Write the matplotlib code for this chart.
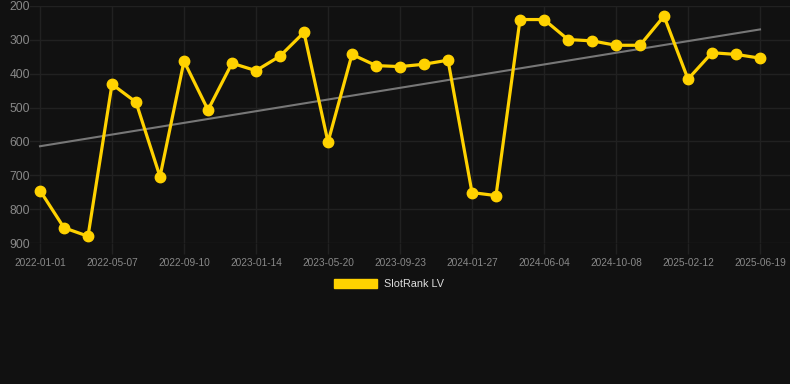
import matplotlib
matplotlib.use("Agg")
import matplotlib.pyplot as plt
import numpy as np
from matplotlib.patches import Patch

plt.rcParams['font.family'] = ['Liberation Sans', 'DejaVu Sans']

tick_labels = ["2022-01-01", "2022-05-07", "2022-09-10", "2023-01-14", "2023-05-20",
               "2023-09-23", "2024-01-27", "2024-06-04", "2024-10-08", "2025-02-12",
               "2025-06-19"]
ranks = [745, 855, 880, 431, 484, 704, 363, 507, 369, 391, 348, 278, 602, 343, 376,
         379, 372, 360, 751, 760, 240, 240, 299, 303, 316, 316, 230, 416, 338, 343, 354]
series_name = "SlotRank LV"

BG = "#111111"
GRID = "#212121"
YELLOW = "#FFD200"

fig = plt.figure(figsize=(7.9, 3.84), dpi=100, facecolor=BG)
W, H = 790, 384
ax = fig.add_axes([30 / W, 1 - 243 / H, 760 / W, (243 - 6) / H])
ax.set_facecolor(BG)

x = np.arange(len(ranks))
coef = np.polyfit(x, ranks, 1)
ax.plot(x, np.polyval(coef, x), color="#777777", lw=1.5, zorder=2)
ax.plot(x, ranks, color=YELLOW, lw=2.3, marker="o", ms=7.5, zorder=3, clip_on=False)

ax.set_xlim(-10 / 24, 30 + 30 / 24)
ax.set_ylim(900, 200)
ax.set_yticks([200, 300, 400, 500, 600, 700, 800, 900])
ax.set_xticks(np.arange(0, len(ranks), 3))
ax.set_xticklabels(tick_labels)
ax.grid(True, color=GRID, lw=1)
for s in ax.spines.values():
    s.set_visible(False)
ax.tick_params(axis="x", length=8, color=GRID, width=1, labelsize=7.3, labelcolor="#888888", pad=3)
ax.tick_params(axis="y", length=0, labelsize=8.7, labelcolor="#888888", pad=0)

fig.legend(handles=[Patch(facecolor=YELLOW, edgecolor=YELLOW)], labels=[series_name],
           loc="center", bbox_to_anchor=(389 / W, 1 - 284 / H), frameon=False,
           handlelength=4.0, handleheight=0.95, handletextpad=0.6,
           fontsize=7.8, labelcolor="#dddddd")

fig.savefig("out.png", dpi=100, facecolor=BG)
